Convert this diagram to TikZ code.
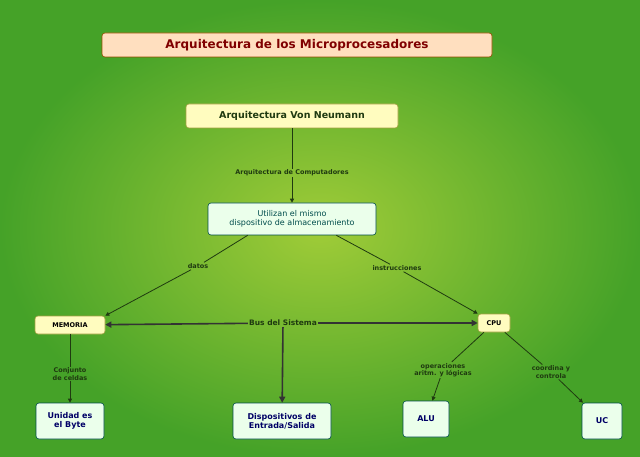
\documentclass[tikz,border=0pt]{standalone}
\usepackage{fontspec}
\setmainfont{DejaVu Sans}
\usetikzlibrary{arrows.meta}
\definecolor{bgin}{HTML}{A0CC38}
\definecolor{bgout}{HTML}{45A228}
\definecolor{lnk}{HTML}{1F3A10}
\begin{document}
\begin{tikzpicture}[x=1pt,y=-1pt,
  box/.style={draw=#1!60!black,line width=0.6pt,rounded corners=3pt,inner sep=2pt,align=center,font=\bfseries\fontsize{8}{9}\selectfont},
  lbl/.style={font=\bfseries\fontsize{6.5}{7.5}\selectfont,text=lnk,align=center,inner sep=1pt},
  arr/.style={draw=lnk,line width=0.8pt,-{Triangle[length=4pt,width=4pt]}},
  ln/.style={draw=lnk,line width=0.8pt}]
\shade[inner color=bgin,outer color=bgout] (0,0) rectangle (640,457);
\useasboundingbox (0,0) rectangle (640,457);
\node[box=orange,fill=orange!25,text=red!50!black,minimum width=390,minimum height=24,font=\bfseries\fontsize{12}{14}\selectfont] (t) at (297,45) {Arquitectura de los Microprocesadores};
\node[box=yellow,fill=yellow!25,text=lnk,minimum width=212,minimum height=24,font=\bfseries\fontsize{9.5}{11}\selectfont] (vn) at (292,116) {Arquitectura Von Neumann};
\node[box=teal,fill=green!8,text=teal!60!black,minimum width=168,minimum height=32,font=\fontsize{8}{9.5}\selectfont] (u) at (292,219) {Utilizan el mismo\\dispositivo de almacenamiento};
\node[box=yellow,fill=yellow!25,text=black,minimum width=70,minimum height=18,font=\bfseries\fontsize{6.5}{8}\selectfont] (m) at (70,325) {MEMORIA};
\node[box=yellow,fill=yellow!25,text=black,minimum width=32,minimum height=18,font=\bfseries\fontsize{6.5}{8}\selectfont] (c) at (494,323) {CPU};
\node[box=teal,fill=green!8,text=blue!40!black,minimum width=68,minimum height=36] (ub) at (70,421) {Unidad es\\el Byte};
\node[box=teal,fill=green!8,text=blue!40!black,minimum width=98,minimum height=36] (d) at (282,421) {Dispositivos de\\Entrada/Salida};
\node[box=teal,fill=green!8,text=blue!40!black,minimum width=46,minimum height=36] (a) at (426,419) {ALU};
\node[box=teal,fill=green!8,text=blue!40!black,minimum width=40,minimum height=36] (uc) at (602,421) {UC};
\node[lbl] (l1) at (292,173) {Arquitectura de Computadores};
\node[lbl] (l2) at (198,266) {datos};
\node[lbl] (l3) at (397,268) {instrucciones};
\node[lbl,font=\bfseries\fontsize{7.5}{8}\selectfont] (bus) at (283,323) {Bus del Sistema};
\node[lbl] (l4) at (70,374) {Conjunto\\de celdas};
\node[lbl] (l5) at (443,370) {operaciones\\aritm. y lógicas};
\node[lbl] (l6) at (551,372) {coordina y\\controla};
\draw[ln] (vn) -- (l1); \draw[arr] (l1) -- (u);
\draw[ln] (u.south west)+(40,0) coordinate (u1) -- (l2); \draw[arr] (l2) -- (m.north east);
\draw[ln] (u.south east)+(-40,0) coordinate (u2) -- (l3); \draw[arr] (l3) -- (c.north west);
\draw[draw=black!80,line width=1.6pt,-{Triangle[length=6pt,width=6pt]}] (bus) -- (m);
\draw[draw=black!80,line width=1.6pt,-{Triangle[length=6pt,width=6pt]}] (bus) -- (c);
\draw[draw=black!80,line width=1.6pt,-{Triangle[length=6pt,width=6pt]}] (bus) -- (d);
\draw[ln] (m) -- (l4); \draw[arr] (l4) -- (ub);
\draw[ln] (c) -- (l5); \draw[arr] (l5) -- (a);
\draw[ln] (c) -- (l6); \draw[arr] (l6) -- (uc);
\end{tikzpicture}
\end{document}
